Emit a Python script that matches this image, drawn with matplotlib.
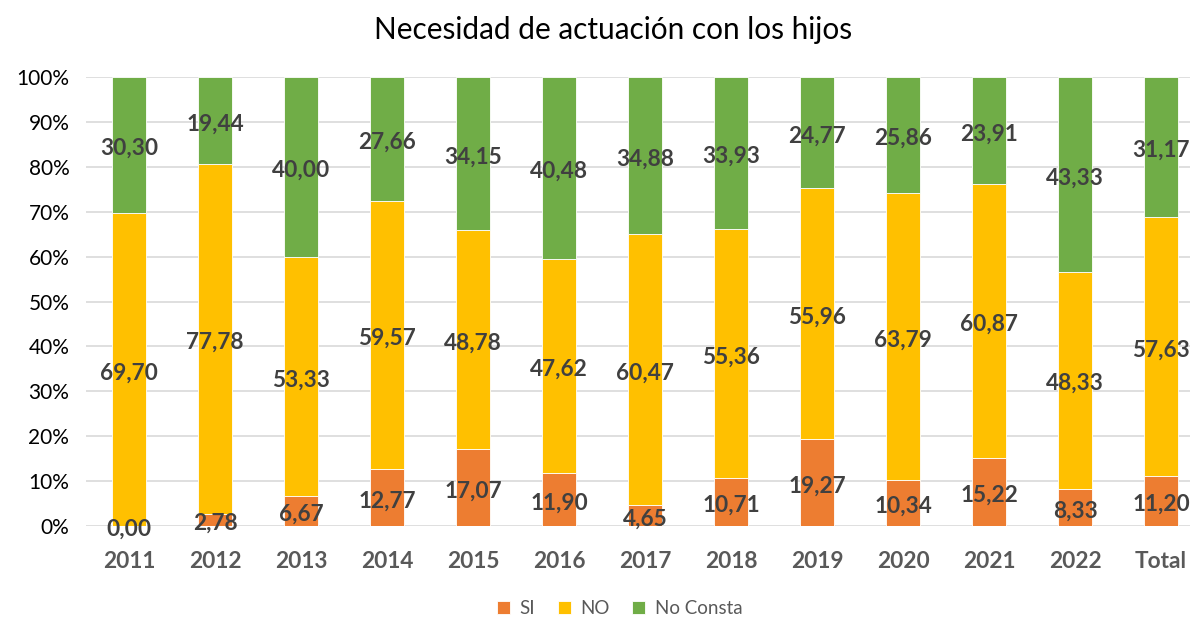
import numpy as np
import matplotlib.pyplot as plt

categories = ['2011', '2012', '2013', '2014', '2015', '2016', '2017',
              '2018', '2019', '2020', '2021', '2022', 'Total']
si = [0.00, 2.78, 6.67, 12.77, 17.07, 11.90, 4.65, 10.71, 19.27, 10.34, 15.22, 8.33, 11.20]
no = [69.70, 77.78, 53.33, 59.57, 48.78, 47.62, 60.47, 55.36, 55.96, 63.79, 60.87, 48.33, 57.63]
no_consta = [30.30, 19.44, 40.00, 27.66, 34.15, 40.48, 34.88, 33.93, 24.77, 25.86, 23.91, 43.33, 31.17]

plt.rcParams['font.family'] = ['Lato', 'DejaVu Sans']

fig = plt.figure(figsize=(11.92, 6.2), dpi=100)
ax = fig.add_axes([86 / 1192, 94 / 620, (1190 - 86) / 1192, 449 / 620])

x = np.arange(len(categories))
si = np.array(si)
no = np.array(no)
nc = np.array(no_consta)
series = [('SI', si, 0, '#ED7D31'),
          ('NO', no, si, '#FFC000'),
          ('No Consta', nc, si + no, '#70AD47')]

for name, vals, bottom, color in series:
    ax.bar(x, vals, 0.4, bottom=bottom, color=color, label=name,
           edgecolor='white', linewidth=0.6, zorder=2)
    for xi, v, b in zip(x, vals, np.broadcast_to(bottom, vals.shape)):
        ax.annotate(f'{v:.2f}'.replace('.', ','), (xi, b + v / 2), xytext=(0, -2.5),
                    textcoords='offset points', ha='center', va='center',
                    fontsize=16.3, fontweight='bold', color='#404040', zorder=3)

ax.set_xlim(-0.5, 12.337)
ax.set_ylim(0, 100)
ax.set_yticks(np.arange(0, 101, 10))
ax.set_yticklabels([f'{v}%' for v in range(0, 101, 10)], fontsize=15, color='black')
ax.set_xticks(x)
ax.set_xticklabels(categories, fontsize=16.3, fontweight='bold', color='#595959')
ax.tick_params(length=0, pad=12)
ax.tick_params(axis='x', pad=18)
ax.grid(axis='y', color='#D9D9D9', linewidth=1.2, zorder=0)
for s in ax.spines.values():
    s.set_visible(False)

fig.suptitle('Necesidad de actuación con los hijos', x=0.514, y=0.975, fontsize=21.4)
fig.legend(loc='lower center', bbox_to_anchor=(0.52, -0.022), ncol=3, frameon=False,
           fontsize=13.5, handlelength=0.7, handleheight=0.7, columnspacing=1.2,
           handletextpad=0.5, labelcolor='#595959')

fig.savefig('out.png', dpi=100)
